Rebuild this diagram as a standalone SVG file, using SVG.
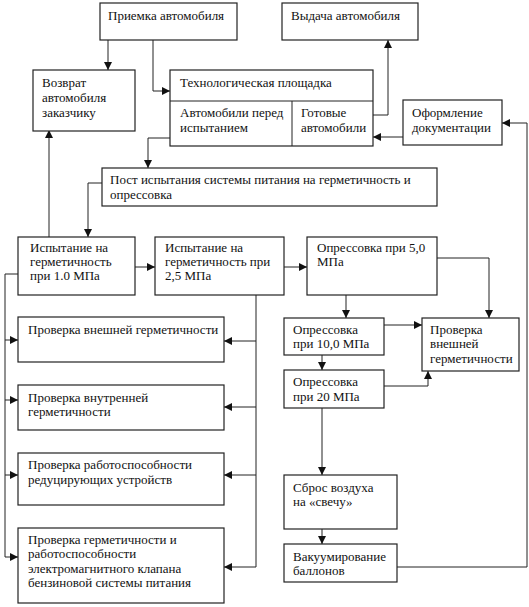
<svg xmlns="http://www.w3.org/2000/svg" width="529" height="607" viewBox="0 0 529 607">
<defs>
<marker id="ah" viewBox="0 0 10 10" refX="10" refY="5" markerWidth="8" markerHeight="8" markerUnits="userSpaceOnUse" orient="auto">
<path d="M0,0 L10,5 L0,10 z" fill="#111"/>
</marker>
</defs>
<style>
.b{fill:#fff;stroke:#222;stroke-width:1.2}
.t{font-family:"Liberation Serif","Times New Roman",serif;font-size:13px;fill:#111}
.c{fill:none;stroke:#222;stroke-width:1;marker-end:url(#ah)}
.l{fill:none;stroke:#222;stroke-width:1}
</style>
<rect width="529" height="607" fill="#fff"/>
<g id="connectors">
<path class="c" d="M108,40 V70"/>
<path class="c" d="M153,40 V91 H170"/>
<path class="c" d="M373,115 H388 V40"/>
<path class="c" d="M403,137 H373"/>
<path class="c" d="M397,567 H527 V123 H502"/>
<path class="c" d="M170,138 H148 V168"/>
<path class="c" d="M102,183 H88 V237"/>
<path class="c" d="M49,237 V130"/>
<path class="c" d="M135,267 H155"/>
<path class="c" d="M284,267 H307"/>
<path class="l" d="M18,274 H5 V557"/>
<path class="c" d="M5,340 H18"/>
<path class="c" d="M5,400 H18"/>
<path class="c" d="M5,475 H18"/>
<path class="c" d="M5,557 H18"/>
<path class="l" d="M256,295 V567"/>
<path class="c" d="M256,341 H224"/>
<path class="c" d="M256,407 H224"/>
<path class="c" d="M256,475 H224"/>
<path class="c" d="M256,567 H224"/>
<path class="c" d="M346,295 V318"/>
<path class="c" d="M437,258 H489 V318"/>
<path class="c" d="M384,325 H422"/>
<path class="c" d="M322,355 V370"/>
<path class="c" d="M384,386 H428 V371"/>
<path class="c" d="M322,408 V475"/>
<path class="c" d="M322,529 V544"/>
</g>
<g id="priemka"><rect class="b" x="100" y="3" width="137" height="37"/><text class="t" x="108" y="20">Приемка автомобиля</text></g>
<g id="vydacha"><rect class="b" x="282" y="3" width="136" height="37"/><text class="t" x="291" y="20">Выдача автомобиля</text></g>
<g id="vozvrat"><rect class="b" x="33" y="70" width="102" height="61"/><text class="t" x="42" y="87">Возврат</text><text class="t" x="42" y="102">автомобиля</text><text class="t" x="42" y="117">заказчику</text></g>
<g id="tech"><rect class="b" x="170" y="70" width="203" height="76"/><line class="l" x1="170" y1="101" x2="373" y2="101"/><line class="l" x1="292" y1="101" x2="292" y2="146"/><text class="t" x="180" y="87">Технологическая площадка</text><text class="t" x="180" y="117">Автомобили перед</text><text class="t" x="180" y="132">испытанием</text><text class="t" x="301" y="117">Готовые</text><text class="t" x="301" y="132">автомобили</text></g>
<g id="oformlenie"><rect class="b" x="403" y="100" width="99" height="45"/><text class="t" x="412" y="117">Оформление</text><text class="t" x="412" y="132">документации</text></g>
<g id="post"><rect class="b" x="102" y="168" width="335" height="38"/><text class="t" x="110" y="184">Пост испытания системы питания на герметичность и</text><text class="t" x="110" y="199">опрессовка</text></g>
<g id="isp10"><rect class="b" x="18" y="237" width="117" height="58"/><text class="t" x="30" y="252">Испытание на</text><text class="t" x="30" y="266">герметичность</text><text class="t" x="30" y="280">при 1.0 МПа</text></g>
<g id="isp25"><rect class="b" x="155" y="237" width="129" height="58"/><text class="t" x="165" y="252">Испытание на</text><text class="t" x="165" y="266">герметичность при</text><text class="t" x="165" y="280">2,5 МПа</text></g>
<g id="opr50"><rect class="b" x="307" y="237" width="130" height="58"/><text class="t" x="317" y="252">Опрессовка при 5,0</text><text class="t" x="317" y="266">МПа</text></g>
<g id="chk1"><rect class="b" x="18" y="317" width="206" height="45"/><text class="t" x="28" y="334">Проверка внешней герметичности</text></g>
<g id="chk2"><rect class="b" x="18" y="385" width="206" height="45"/><text class="t" x="28" y="402">Проверка внутренней</text><text class="t" x="28" y="416">герметичности</text></g>
<g id="chk3"><rect class="b" x="18" y="453" width="206" height="52"/><text class="t" x="28" y="469">Проверка работоспособности</text><text class="t" x="28" y="484">редуцирующих устройств</text></g>
<g id="chk4"><rect class="b" x="18" y="528" width="206" height="75"/><text class="t" x="28" y="544">Проверка герметичности и</text><text class="t" x="28" y="558">работоспособности</text><text class="t" x="28" y="573">электромагнитного клапана</text><text class="t" x="28" y="587">бензиновой системы питания</text></g>
<g id="opr100"><rect class="b" x="284" y="318" width="100" height="37"/><text class="t" x="293" y="334">Опрессовка</text><text class="t" x="293" y="348">при 10,0 МПа</text></g>
<g id="opr20"><rect class="b" x="284" y="370" width="100" height="38"/><text class="t" x="293" y="386">Опрессовка</text><text class="t" x="293" y="401">при 20 МПа</text></g>
<g id="chkR"><rect class="b" x="422" y="318" width="97" height="53"/><text class="t" x="430" y="334">Проверка</text><text class="t" x="430" y="348">внешней</text><text class="t" x="430" y="363">герметичности</text></g>
<g id="sbros"><rect class="b" x="284" y="475" width="113" height="54"/><text class="t" x="293" y="492">Сброс воздуха</text><text class="t" x="293" y="506">на «свечу»</text></g>
<g id="vakuum"><rect class="b" x="284" y="544" width="113" height="38"/><text class="t" x="293" y="561">Вакуумирование</text><text class="t" x="293" y="575">баллонов</text></g>
</svg>
